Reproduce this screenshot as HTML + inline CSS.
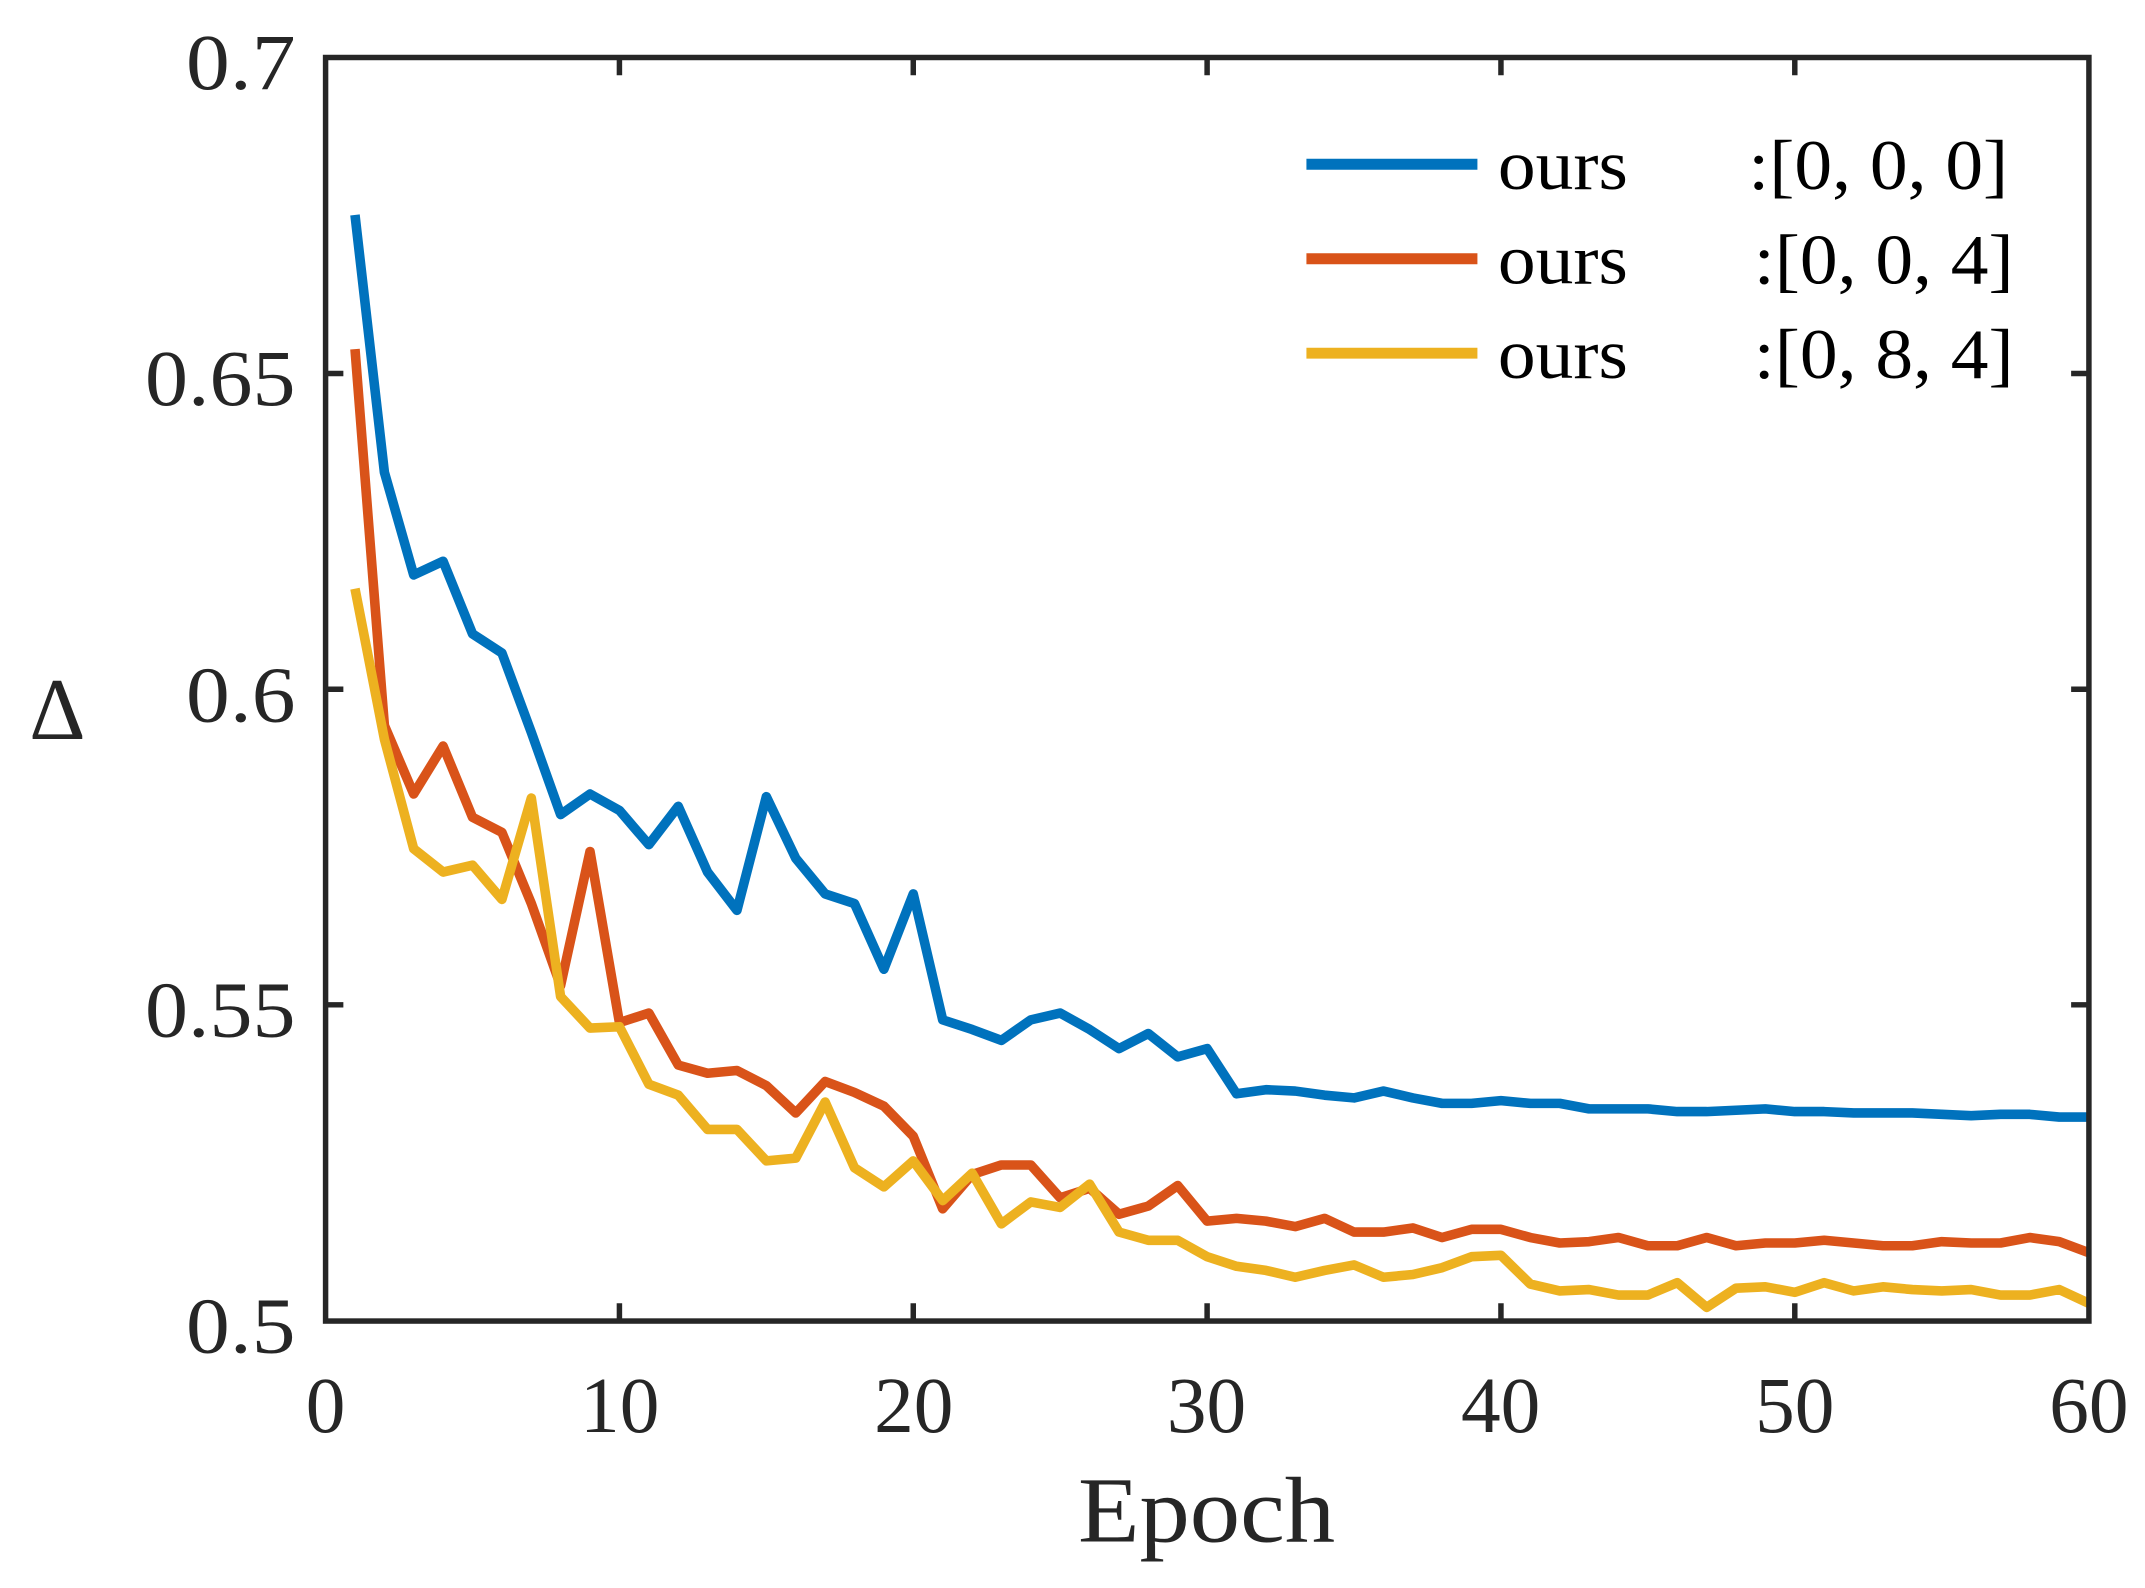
<!DOCTYPE html>
<html><head><style>html,body{margin:0;padding:0;background:#fff}svg{display:block}</style></head>
<body>
<svg width="2145" height="1588" viewBox="0 0 1568 1160" preserveAspectRatio="none" xmlns="http://www.w3.org/2000/svg" font-family="'Liberation Serif', serif">
<rect width="1568" height="1160" fill="#fff"/>
<g fill="none" stroke-linejoin="round" stroke-width="7">
<polyline stroke="#0072BD" points="259.5,157 281,345 302.4,420 323.9,410 345.4,463 366.9,477 388.4,535 409.8,595 431.3,580 452.8,592 474.3,617 495.8,589 517.2,637 538.7,665 560.2,582 581.7,627 603.2,653 624.6,660 646.1,708 667.6,653 689.1,745 710.6,752 732,760 753.5,745 775,740 796.5,752 818,766 839.4,755 860.9,772 882.4,766 903.9,799 925.4,796 946.8,797 968.3,800 989.8,802 1011.3,797 1032.8,802 1054.2,806 1075.7,806 1097.2,804 1118.7,806 1140.2,806 1161.6,810 1183.1,810 1204.6,810 1226.1,812 1247.6,812 1269,811 1290.5,810 1312,812 1333.5,812 1355,813 1376.4,813 1397.9,813 1419.4,814 1440.9,815 1462.4,814 1483.8,814 1505.3,816 1526.8,816"/>
<polyline stroke="#D95319" points="259.5,255 281,530 302.4,580 323.9,545 345.4,597 366.9,608 388.4,660 409.8,720 431.3,622 452.8,747 474.3,740 495.8,778 517.2,784 538.7,782 560.2,793 581.7,813 603.2,790 624.6,798 646.1,808 667.6,830 689.1,883 710.6,858 732,851 753.5,851 775,875 796.5,868 818,887 839.4,881 860.9,866 882.4,892 903.9,890 925.4,892 946.8,896 968.3,890 989.8,900 1011.3,900 1032.8,897 1054.2,904 1075.7,898 1097.2,898 1118.7,904 1140.2,908 1161.6,907 1183.1,904 1204.6,910 1226.1,910 1247.6,904 1269,910 1290.5,908 1312,908 1333.5,906 1355,908 1376.4,910 1397.9,910 1419.4,907 1440.9,908 1462.4,908 1483.8,904 1505.3,907 1526.8,915"/>
<polyline stroke="#EDB120" points="259.5,430 281,540 302.4,620 323.9,637 345.4,632 366.9,657 388.4,583 409.8,728 431.3,751 452.8,750 474.3,792 495.8,800 517.2,825 538.7,825 560.2,848 581.7,846 603.2,805 624.6,853 646.1,867 667.6,848 689.1,877 710.6,857 732,894 753.5,878 775,882 796.5,865 818,900 839.4,906 860.9,906 882.4,918 903.9,925 925.4,928 946.8,933 968.3,928 989.8,924 1011.3,933 1032.8,931 1054.2,926 1075.7,918 1097.2,917 1118.7,938 1140.2,943 1161.6,942 1183.1,946 1204.6,946 1226.1,937 1247.6,955 1269,941 1290.5,940 1312,944 1333.5,937 1355,943 1376.4,940 1397.9,942 1419.4,943 1440.9,942 1462.4,946 1483.8,946 1505.3,942 1526.8,952"/>
</g>
<rect x="238" y="42" width="1289" height="923" fill="none" stroke="#262626" stroke-width="4"/>
<g stroke="#262626" stroke-width="4">
<path d="M452.8,965v-13M667.6,965v-13M882.4,965v-13M1097.2,965v-13M1312,965v-13M452.8,42v13M667.6,42v13M882.4,42v13M1097.2,42v13M1312,42v13"/>
<path d="M238,734h13M238,503.5h13M238,272.8h13M1527,734h-13M1527,503.5h-13M1527,272.8h-13"/>
</g>
<g font-size="58" fill="#262626" text-anchor="end">
<text x="216" y="65" textLength="80" lengthAdjust="spacingAndGlyphs">0.7</text>
<text x="216" y="296" textLength="110" lengthAdjust="spacingAndGlyphs">0.65</text>
<text x="216" y="527" textLength="80" lengthAdjust="spacingAndGlyphs">0.6</text>
<text x="216" y="757" textLength="110" lengthAdjust="spacingAndGlyphs">0.55</text>
<text x="216" y="988" textLength="80" lengthAdjust="spacingAndGlyphs">0.5</text>
</g>
<g font-size="58" fill="#262626" text-anchor="middle">
<text x="238" y="1046">0</text><text x="453" y="1046">10</text><text x="668" y="1046">20</text><text x="882" y="1046">30</text><text x="1097" y="1046">40</text><text x="1312" y="1046">50</text><text x="1527" y="1046">60</text>
<text x="882" y="1126" font-size="68" textLength="188" lengthAdjust="spacingAndGlyphs">Epoch</text>
<text x="42" y="540" font-size="64">Δ</text>
</g>
<g stroke-width="8">
<line x1="955" y1="120" x2="1080" y2="120" stroke="#0072BD"/>
<line x1="955" y1="189" x2="1080" y2="189" stroke="#D95319"/>
<line x1="955" y1="258" x2="1080" y2="258" stroke="#EDB120"/>
</g>
<g font-size="52" fill="#000">
<text x="1095" y="138" textLength="95" lengthAdjust="spacingAndGlyphs">ours</text><text x="1278" y="138" textLength="190" lengthAdjust="spacingAndGlyphs">:[0, 0, 0]</text>
<text x="1095" y="207" textLength="95" lengthAdjust="spacingAndGlyphs">ours</text><text x="1282" y="207" textLength="190" lengthAdjust="spacingAndGlyphs">:[0, 0, 4]</text>
<text x="1095" y="276" textLength="95" lengthAdjust="spacingAndGlyphs">ours</text><text x="1282" y="276" textLength="190" lengthAdjust="spacingAndGlyphs">:[0, 8, 4]</text>
</g>
</svg>
</body></html>
